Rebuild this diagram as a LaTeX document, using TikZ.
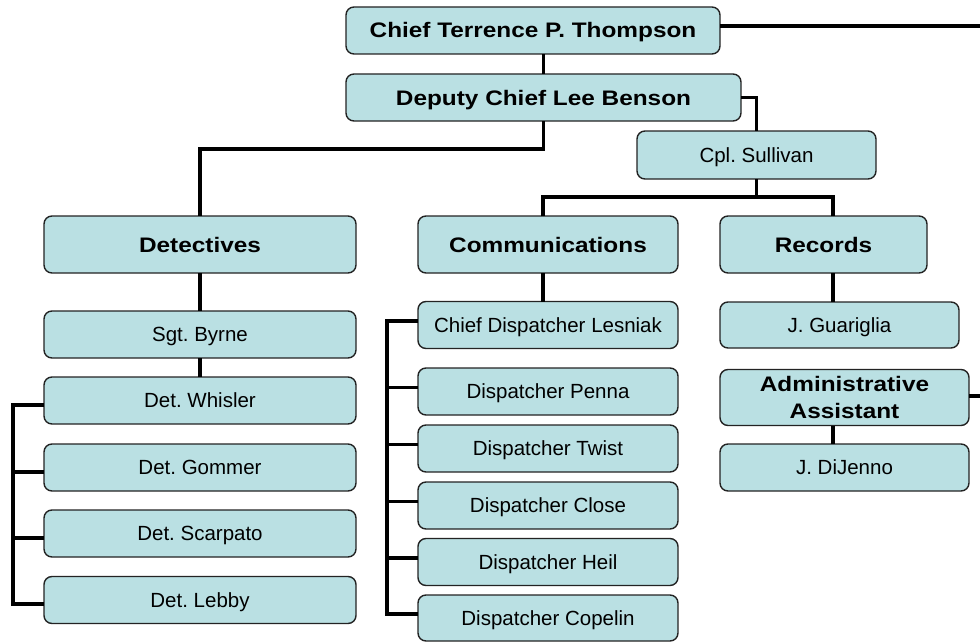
\documentclass[tikz,border=0pt]{standalone}
\usepackage{fontspec}
\setmainfont{Liberation Sans}
\newfontface\hbold[FakeStretch=1.16]{Liberation Sans Bold}
\definecolor{boxfill}{RGB}{186,224,227}
\definecolor{boxline}{RGB}{35,35,35}
\frenchspacing
\begin{document}
\frenchspacing
\begin{tikzpicture}[x=1pt,y=-1pt,
  orgbase/.style={draw=boxline, line width=1.4pt, fill=boxfill, rounded corners=8pt,
    inner sep=0pt, outer sep=0pt, align=center},
  orgbox/.style={orgbase, font=\fontsize{20.5}{24}\selectfont\frenchspacing, text height=14.7pt, text depth=0pt},
  headbox/.style={orgbase, font=\hbold\fontsize{21}{26}\selectfont\frenchspacing, text height=15pt, text depth=0pt},
  twoline/.style={orgbase, font=\hbold\fontsize{21}{27}\selectfont\frenchspacing},
  wire/.style={line width=3.4pt, black}]
\useasboundingbox (0,0) rectangle (980,642);
% top
\node[headbox, minimum width=374pt, minimum height=47pt] (chief) at (533,30.5) {Chief Terrence P. Thompson};
\node[headbox, minimum width=395pt, minimum height=47pt] (deputy) at (543.5,97.5) {Deputy Chief Lee Benson};
\node[orgbox, minimum width=239pt, minimum height=48pt] (cpl) at (756.5,155) {Cpl. Sullivan};
% departments
\node[headbox, minimum width=312pt, minimum height=57pt] (det) at (200,244.5) {Detectives};
\node[headbox, minimum width=260pt, minimum height=57pt] (comm) at (548,244.5) {Communications};
\node[headbox, minimum width=207pt, minimum height=57pt] (rec) at (823.5,244.5) {Records};
% detectives column
\node[orgbox, minimum width=312pt, minimum height=47pt] (byrne) at (200,334.5) {Sgt. Byrne};
\node[orgbox, minimum width=312pt, minimum height=47pt] (whisler) at (200,400.5) {Det. Whisler};
\node[orgbox, minimum width=312pt, minimum height=47pt] (gommer) at (200,467.5) {Det. Gommer};
\node[orgbox, minimum width=312pt, minimum height=47pt] (scarpato) at (200,533.5) {Det. Scarpato};
\node[orgbox, minimum width=312pt, minimum height=47pt] (lebby) at (200,600) {Det. Lebby};
% communications column
\node[orgbox, minimum width=260pt, minimum height=47pt] (lesniak) at (548,325) {Chief Dispatcher Lesniak};
\node[orgbox, minimum width=260pt, minimum height=47pt] (penna) at (548,391.5) {Dispatcher Penna};
\node[orgbox, minimum width=260pt, minimum height=47pt] (twist) at (548,448.5) {Dispatcher Twist};
\node[orgbox, minimum width=260pt, minimum height=47pt] (close) at (548,505.5) {Dispatcher Close};
\node[orgbox, minimum width=260pt, minimum height=47pt] (heil) at (548,562) {Dispatcher Heil};
\node[orgbox, minimum width=260pt, minimum height=46pt] (copelin) at (548,618) {Dispatcher Copelin};
% records column
\node[orgbox, minimum width=239pt, minimum height=46pt] (guariglia) at (839.5,325) {J. Guariglia};
\node[twoline, minimum width=249pt, minimum height=56pt] (admin) at (844.5,397.5) {Administrative\\Assistant};
\node[orgbox, minimum width=249pt, minimum height=47pt] (dijenno) at (844.5,467.5) {J. DiJenno};
% free ends and junctions
\coordinate (e1) at (980,26);
\coordinate (e2) at (980,396);
\coordinate (j1) at (543.5,149);
\coordinate (j2) at (756.5,197);
% connectors
\draw[wire] (chief.east |- e1) -- (e1);
\draw[wire] (deputy.north) -- (deputy.north |- chief.south);
\draw[wire] (deputy.south) -- (j1) -| (det.north);
\draw[wire] (deputy.east) -| (cpl.north);
\draw[wire] (cpl.south) -- (j2);
\draw[wire] ([xshift=-5pt]comm.north) |- (j2) -| ([xshift=9.5pt]rec.north);
\draw[wire] ([xshift=-5pt]comm.south) -- ([xshift=-5pt]comm.south |- lesniak.north);
\draw[wire] ([xshift=9.5pt]rec.south) -- ([xshift=9.5pt]rec.south |- guariglia.north);
\draw[wire] ([xshift=-11.5pt]admin.south) -- ([xshift=-11.5pt]admin.south |- dijenno.north);
\draw[wire] (admin.east |- e2) -- (e2);
\draw[wire] (det.south) -- (byrne.north);
\draw[wire] (byrne.south) -- (whisler.north);
% detectives bracket
\draw[wire] ([yshift=-4.5pt]whisler.west) -- ++(-31,0) |- ([yshift=-4pt]lebby.west);
\draw[wire] ([yshift=-4.5pt]gommer.west) -- ++(-31,0);
\draw[wire] ([yshift=-4.5pt]scarpato.west) -- ++(-31,0);
% communications bracket
\draw[wire] ([yshift=4pt]lesniak.west) -- ++(-31,0) |- ([yshift=4pt]copelin.west);
\draw[wire] ([yshift=4pt]penna.west) -- ++(-31,0);
\draw[wire] ([yshift=4pt]twist.west) -- ++(-31,0);
\draw[wire] ([yshift=4pt]close.west) -- ++(-31,0);
\draw[wire] ([yshift=4pt]heil.west) -- ++(-31,0);
\end{tikzpicture}
\end{document}
